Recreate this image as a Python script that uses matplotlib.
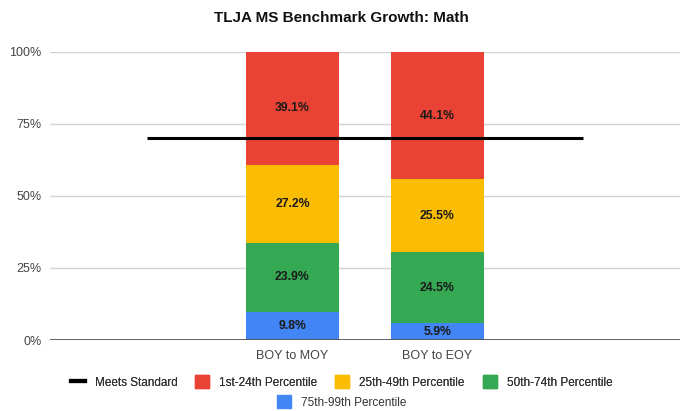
import matplotlib
matplotlib.use("Agg")
import matplotlib.pyplot as plt
from matplotlib.lines import Line2D
from matplotlib.patches import Patch
import numpy as np

plt.rcParams['font.family'] = ['Liberation Sans', 'DejaVu Sans']

categories = ["", "BOY to MOY", "BOY to EOY", ""]
meets_standard = [70, 70, 70, 70]
p75_99 = [0, 9.8, 5.9, 0]
p50_74 = [0, 23.9, 24.5, 0]
p25_49 = [0, 27.2, 25.5, 0]
p1_24 = [0, 39.1, 44.1, 0]
yticks = [0, 25, 50, 75, 100]
ytick_labels = ["0%", "25%", "50%", "75%", "100%"]

series = [
    ("75th-99th Percentile", p75_99, "#4285f4"),
    ("50th-74th Percentile", p50_74, "#34a853"),
    ("25th-49th Percentile", p25_49, "#fbbc04"),
    ("1st-24th Percentile", p1_24, "#ea4335"),
]

fig = plt.figure(figsize=(6.83, 4.11), dpi=100)
ax = fig.add_axes([50/683, 1 - 340/411, 630/683, 288/411])

x = np.arange(len(categories))
bottom = np.zeros(len(categories))
for name, vals, col in series:
    vals = np.array(vals, dtype=float)
    ax.bar(x, vals, bottom=bottom, width=0.64, color=col, zorder=2)
    for xi, v, b in zip(x, vals, bottom):
        if v > 0:
            ax.text(xi, b + v / 2, f"{v:.1f}%", ha="center", va="center",
                    fontsize=8.8, fontweight="bold", color="#1a1a1a", zorder=4)
    bottom += vals

ax.plot(x, meets_standard, color="black", lw=2.2, zorder=3, solid_capstyle="butt")

ax.set_xlim(-0.672, 3.672)
ax.set_ylim(0, 100)
ax.set_yticks(yticks)
ax.set_yticklabels(ytick_labels)
ax.set_xticks(x[1:3])
ax.set_xticklabels(categories[1:3])
ax.tick_params(axis="both", length=0, labelsize=9, colors="#444444")
ax.tick_params(axis="y", pad=6)
ax.tick_params(axis="x", pad=7)
for s in ax.spines.values():
    s.set_visible(False)
ax.grid(axis="y", color="#d4d4d4", lw=1, zorder=0)
ax.axhline(0, color="#555555", lw=1.3, zorder=3)
ax.set_axisbelow(True)

fig.text(0.5, 1 - 18/411, "TLJA MS Benchmark Growth: Math", ha="center", va="center",
         fontsize=11, fontweight="bold", color="#111111")

h1 = [Line2D([0], [0], color="black", lw=3),
      Patch(color="#ea4335"), Patch(color="#fbbc04"), Patch(color="#34a853")]
l1 = ["Meets Standard", "1st-24th Percentile", "25th-49th Percentile", "50th-74th Percentile"]
leg1 = fig.legend(h1, l1, loc="center", bbox_to_anchor=(0.5, 1 - 382/411), ncol=4,
                  frameon=False, fontsize=8.5, handlelength=1.2, handleheight=1.2,
                  columnspacing=1.5, handletextpad=0.85, labelcolor="#333333")
fig.add_artist(leg1)
leg2 = fig.legend([Patch(color="#4285f4")], ["75th-99th Percentile"], loc="center",
                  bbox_to_anchor=(0.5, 1 - 402/411), frameon=False, fontsize=8.5,
                  handlelength=1.2, handleheight=1.2, handletextpad=0.85, labelcolor="#333333")

fig.savefig("out.png", dpi=100)
